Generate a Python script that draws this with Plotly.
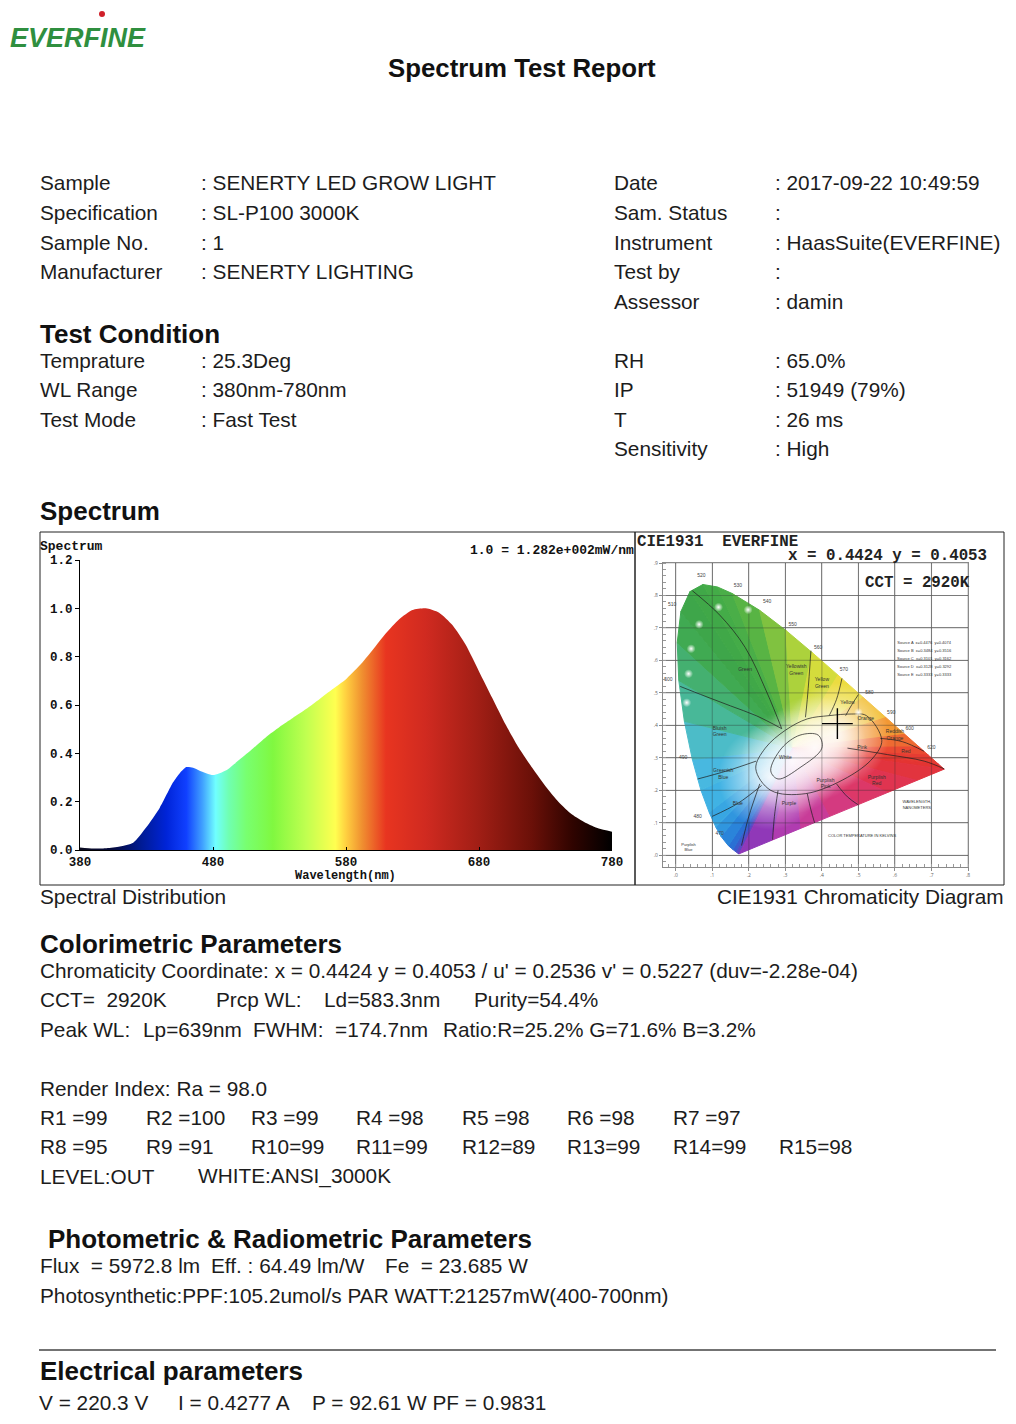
import plotly.graph_objects as go

# the page puts the figure 8px in from the top-left corner, so the figure is
# 1000x1408 and every position below is given in page pixels
W, H = 1000, 1408
OFF = 8
SANS = "Liberation Sans, Arial, sans-serif"
MONO = "Liberation Mono, Courier New, monospace"
INK = "#1c1c1c"
BODY = 20.8
HEAD = 26


def px(x):
    return (x - OFF) / W


def py(y):
    return 1 - (y - OFF) / H


# ---------------- data ----------------
info_left_labels = ["Sample", "Specification", "Sample No.", "Manufacturer"]
info_left_values = ["SENERTY LED GROW LIGHT", "SL-P100 3000K", "1", "SENERTY LIGHTING"]
info_right_labels = ["Date", "Sam. Status", "Instrument", "Test by", "Assessor"]
info_right_values = ["2017-09-22 10:49:59", "", "HaasSuite(EVERFINE)", "", "damin"]

cond_left_labels = ["Temprature", "WL Range", "Test Mode"]
cond_left_values = ["25.3Deg", "380nm-780nm", "Fast Test"]
cond_right_labels = ["RH", "IP", "T", "Sensitivity"]
cond_right_values = ["65.0%", "51949 (79%)", "26 ms", "High"]

# relative spectral power (1.0 = 1.282e+002 mW/nm)
wavelength = [380, 390, 400, 410, 420, 430, 440, 450, 455, 460, 465, 470, 480, 490,
              500, 510, 520, 530, 540, 550, 560, 570, 580, 590, 600, 610, 620, 630,
              640, 650, 660, 670, 680, 690, 700, 710, 720, 730, 740, 750, 760, 770, 780]
intensity = [0.010, 0.006, 0.007, 0.014, 0.030, 0.095, 0.175, 0.280, 0.318, 0.343, 0.340,
             0.328, 0.310, 0.330, 0.374, 0.420, 0.468, 0.509, 0.546, 0.583, 0.624, 0.666,
             0.707, 0.762, 0.828, 0.897, 0.955, 0.993, 1.000, 0.982, 0.931, 0.849, 0.739,
             0.629, 0.519, 0.422, 0.340, 0.264, 0.198, 0.147, 0.113, 0.089, 0.076]

spec_stop_wl = [380, 405, 425, 445, 460, 472, 482, 492, 505, 525, 550, 572, 580, 592,
                610, 640, 680, 720, 750, 780]
spec_colors = ["#0a0a1e", "#050a40", "#001a90", "#0024d8", "#1040ff", "#40a0ff", "#70ffff",
               "#70ffb0", "#78ff70", "#80f840", "#c0ff50", "#ffff50", "#ffd040", "#f09030",
               "#e83520", "#d02a20", "#a01e15", "#6a1008", "#300400", "#000000"]

# CIE 1931 spectral locus and line of purples
locus_wl = [380, 420, 440, 450, 460, 470, 475, 480, 485, 490, 495, 500, 505, 510, 515,
            520, 525, 530, 540, 550, 560, 570, 580, 590, 600, 610, 620, 640, 700]
locus_x = [0.1741, 0.1714, 0.1644, 0.1566, 0.1440, 0.1241, 0.1096, 0.0913, 0.0687, 0.0454,
           0.0235, 0.0082, 0.0039, 0.0139, 0.0389, 0.0743, 0.1142, 0.1547, 0.2296, 0.3016,
           0.3731, 0.4441, 0.5125, 0.5752, 0.6270, 0.6658, 0.6915, 0.7190, 0.7347]
locus_y = [0.0050, 0.0051, 0.0109, 0.0177, 0.0297, 0.0578, 0.0868, 0.1327, 0.2007, 0.2950,
           0.4127, 0.5384, 0.6548, 0.7502, 0.8120, 0.8338, 0.8262, 0.8059, 0.7543, 0.6923,
           0.6245, 0.5547, 0.4866, 0.4242, 0.3725, 0.3340, 0.3083, 0.2809, 0.2653]
purple_x = [0.66, 0.58, 0.50, 0.42, 0.34, 0.26]
purple_y = [0.2306, 0.1935, 0.1563, 0.1192, 0.0821, 0.0450]
edge_colors = ["#7a3aba", "#5a48c4", "#3a5ccc", "#2a70d4", "#2a84da", "#3096de", "#38a6e2",
               "#40b2e4", "#48b8e0", "#4cbcc8", "#48b898", "#44b070", "#40aa52", "#3ea64a",
               "#40a848", "#44ac48", "#4aae48", "#58b444", "#80c240", "#acd23c", "#d4dc3c",
               "#ecdc40", "#f2c03a", "#f29834", "#ee6a32", "#ea4a32", "#e63c32", "#e43432",
               "#e2343e", "#e03450", "#dc3868", "#d43a80", "#c83c98", "#b03cb0", "#9038b8"]
white_x, white_y = 0.32, 0.33

cie_x, cie_y, cct = 0.4424, 0.4053, 2920
cie_xticks = [0, 0.1, 0.2, 0.3, 0.4, 0.5, 0.6, 0.7, 0.8]
cie_yticks = [0, 0.1, 0.2, 0.3, 0.4, 0.5, 0.6, 0.7, 0.8, 0.9]

glow_x = [0.26, 0.32, 0.38, 0.44]
glow_y = [0.24, 0.29, 0.33, 0.37]
dot_x = [0.117, 0.198, 0.064, 0.042, 0.035, 0.030, 0.50]
dot_y = [0.764, 0.756, 0.711, 0.636, 0.559, 0.470, 0.44]

region_lines = [
    ([0.045, 0.12, 0.19, 0.25, 0.29], [0.815, 0.74, 0.64, 0.50, 0.39]),
    ([0.012, 0.08, 0.15, 0.22, 0.29], [0.52, 0.49, 0.46, 0.43, 0.39]),
    ([0.37, 0.365, 0.36, 0.355], [0.63, 0.55, 0.48, 0.425]),
    ([0.455, 0.44, 0.42], [0.545, 0.48, 0.43]),
    ([0.50, 0.48, 0.465], [0.495, 0.46, 0.43]),
    ([0.56, 0.62, 0.68], [0.36, 0.35, 0.32]),
    ([0.47, 0.58, 0.68, 0.735], [0.33, 0.31, 0.29, 0.266]),
    ([0.44, 0.47, 0.50], [0.22, 0.18, 0.155]),
    ([0.36, 0.37, 0.38], [0.19, 0.14, 0.10]),
    ([0.28, 0.27, 0.265], [0.20, 0.12, 0.048]),
    ([0.23, 0.20, 0.18], [0.22, 0.12, 0.03]),
    ([0.06, 0.14, 0.22], [0.235, 0.26, 0.29]),
    ([0.10, 0.17, 0.235], [0.12, 0.16, 0.215]),
    ([0.219, 0.245, 0.30, 0.36, 0.42, 0.48, 0.522, 0.564, 0.54, 0.47, 0.356, 0.26, 0.219],
     [0.267, 0.33, 0.385, 0.42, 0.43, 0.435, 0.43, 0.354, 0.30, 0.24, 0.19, 0.20, 0.267]),
    ([0.26, 0.29, 0.34, 0.39, 0.40, 0.34, 0.28, 0.26],
     [0.26, 0.33, 0.37, 0.37, 0.33, 0.27, 0.235, 0.26]),
]
region_names = ["Green", "Yellowish<br>Green", "Yellow<br>Green", "Yellow", "Orange",
                "Reddish<br>Orange", "Red", "Pink", "Purplish<br>Pink", "Purple",
                "Purplish<br>Red", "Blue", "Greenish<br>Blue", "Bluish<br>Green", "White"]
region_x = [0.19, 0.33, 0.40, 0.47, 0.52, 0.60, 0.63, 0.51, 0.41, 0.31, 0.55, 0.17, 0.13,
            0.12, 0.30]
region_y = [0.57, 0.57, 0.53, 0.47, 0.42, 0.37, 0.32, 0.33, 0.22, 0.16, 0.23, 0.16, 0.25,
            0.38, 0.30]
wl_labels = ["520", "510", "530", "540", "550", "560", "570", "580", "590", "600", "620",
             "500", "490", "480", "470"]
wl_lab_x = [0.07, -0.01, 0.17, 0.25, 0.32, 0.39, 0.46, 0.53, 0.59, 0.64, 0.70, -0.02,
            0.02, 0.06, 0.12]
wl_lab_y = [0.86, 0.77, 0.83, 0.78, 0.71, 0.64, 0.57, 0.50, 0.44, 0.39, 0.33, 0.54, 0.30,
            0.12, 0.065]
source_lines = ["Source A  x=0.4476  y=0.4074", "Source B  x=0.3484  y=0.3516",
                "Source C  x=0.3101  y=0.3162", "Source D  x=0.3128  y=0.3292",
                "Source E  x=0.3333  y=0.3333"]

colorimetric_line = ("Chromaticity Coordinate: x = 0.4424 y = 0.4053 / u' = 0.2536 "
                     "v' = 0.5227 (duv=-2.28e-04)")
cct_row = ["CCT=  2920K", "Prcp WL:", "Ld=583.3nm", "Purity=54.4%"]
cct_row_x = [40, 216, 324, 474]
peak_row = ["Peak WL:", "Lp=639nm", "FWHM:", "=174.7nm", "Ratio:R=25.2% G=71.6% B=3.2%"]
peak_row_x = [40, 143, 253, 335, 443]
render_ra = 98.0
render_r = [99, 100, 99, 98, 98, 98, 97, 95, 91, 99, 99, 89, 99, 99, 98]
r_col_x = [40, 146, 251, 356, 462, 567, 673, 779]
photo_row = ["Flux  = 5972.8 lm", "Eff. : 64.49 lm/W", "Fe  = 23.685 W"]
photo_row_x = [40, 211, 385]
ppf_line = "Photosynthetic:PPF:105.2umol/s PAR WATT:21257mW(400-700nm)"
elec_row = ["V = 220.3 V", "I = 0.4277 A", "P = 92.61 W PF = 0.9831"]
elec_row_x = [40, 179, 313]

# ---------------- figure ----------------
fig = go.Figure()

# spectrum with a wavelength colour fill
spec_scale = [[(w - 380) / 400, c] for w, c in zip(spec_stop_wl, spec_colors)]
fig.add_trace(go.Scatter(
    x=wavelength, y=intensity, mode="lines",
    line=dict(width=0, shape="spline", smoothing=0.6),
    fill="tozeroy",
    fillgradient=dict(type="horizontal", start=380, stop=780, colorscale=spec_scale),
    hoverinfo="skip", xaxis="x", yaxis="y"))

# chromaticity diagram: fan of coloured wedges from the white point
bx = locus_x + purple_x
by = locus_y + purple_y
n = len(bx)
for i in range(n):
    j = (i + 1) % n
    fig.add_trace(go.Scatter(
        x=[white_x, bx[i], bx[j], white_x], y=[white_y, by[i], by[j], white_y],
        mode="lines", fill="toself", fillcolor=edge_colors[i],
        line=dict(color=edge_colors[i], width=1),
        hoverinfo="skip", xaxis="x2", yaxis="y2"))

# whitish centre
fig.add_trace(go.Scatter(
    x=glow_x, y=glow_y, mode="markers",
    marker=dict(size=105, color="rgba(255,255,255,0)", line=dict(width=0),
                gradient=dict(type="radial", color="rgba(255,255,255,0.9)")),
    hoverinfo="skip", xaxis="x2", yaxis="y2"))

# grid seen through the colours
gx, gy = [], []
for t in cie_xticks:
    gx += [t, t, None]
    gy += [-0.036, 0.9, None]
for t in cie_yticks:
    gx += [-0.035, 0.8, None]
    gy += [t, t, None]
fig.add_trace(go.Scatter(x=gx, y=gy, mode="lines",
                         line=dict(color="rgba(40,40,40,0.28)", width=1.2),
                         hoverinfo="skip", xaxis="x2", yaxis="y2"))

for lx, ly in region_lines:
    fig.add_trace(go.Scatter(x=lx, y=ly, mode="lines",
                             line=dict(color="rgba(30,30,30,0.8)", width=0.9, shape="spline"),
                             hoverinfo="skip", xaxis="x2", yaxis="y2"))

fig.add_trace(go.Scatter(x=region_x, y=region_y, mode="text", text=region_names,
                         textfont=dict(family=SANS, size=5, color="#333"),
                         hoverinfo="skip", xaxis="x2", yaxis="y2"))
fig.add_trace(go.Scatter(x=wl_lab_x, y=wl_lab_y, mode="text", text=wl_labels,
                         textfont=dict(family=SANS, size=5, color="#444"),
                         hoverinfo="skip", xaxis="x2", yaxis="y2"))
fig.add_trace(go.Scatter(x=[0.68] * len(source_lines),
                         y=[0.655, 0.63, 0.605, 0.58, 0.555],
                         mode="text", text=source_lines,
                         textfont=dict(family=SANS, size=4, color="#333"),
                         hoverinfo="skip", xaxis="x2", yaxis="y2"))
fig.add_trace(go.Scatter(x=[0.51, 0.66, 0.035], y=[0.058, 0.155, 0.025], mode="text",
                         text=["COLOR TEMPERATURE IN KELVINS", "WAVELENGTH,<br>NANOMETERS",
                               "Purplish<br>Blue"],
                         textfont=dict(family=SANS, size=4, color="#333"),
                         hoverinfo="skip", xaxis="x2", yaxis="y2"))

fig.add_trace(go.Scatter(
    x=dot_x, y=dot_y, mode="markers",
    marker=dict(size=9, color="rgba(255,255,255,0)", line=dict(width=0),
                gradient=dict(type="radial", color="rgba(255,255,255,1)")),
    hoverinfo="skip", xaxis="x2", yaxis="y2"))

fig.add_trace(go.Scatter(
    x=[cie_x], y=[cie_y], mode="markers",
    marker=dict(symbol="cross-thin", size=22, line=dict(color="black", width=1.4)),
    hoverinfo="skip", xaxis="x2", yaxis="y2"))

# ---------------- text ----------------
ann = []


def txt(x, y, s, size=BODY, bold=False, anchor="left", family=SANS, color=INK,
        italic=False, pad=1):
    ann.append(dict(x=px(x), y=py(y), xref="paper", yref="paper", text=s, showarrow=False,
                    xanchor=anchor, yanchor="middle", borderpad=pad,
                    font=dict(family=family, size=size, color=color,
                              weight="bold" if bold else "normal",
                              style="italic" if italic else "normal")))


txt(8, 38, "EVERFINE", size=27, bold=True, italic=True, color="#2f8f3f")
txt(522, 68, "Spectrum Test Report", size=25.8, bold=True, anchor="center", color="#111")

for k, (lab, val) in enumerate(zip(info_left_labels, info_left_values)):
    yy = 183 + k * 29.5
    txt(38, yy, lab)
    txt(199, yy, ": " + val)
for k, (lab, val) in enumerate(zip(info_right_labels, info_right_values)):
    yy = 183 + k * 29.5
    txt(612, yy, lab)
    txt(773, yy, ": " + val if val else ":")

txt(38, 334, "Test Condition", size=HEAD, bold=True, color="#111")
for k, (lab, val) in enumerate(zip(cond_left_labels, cond_left_values)):
    yy = 360 + k * 29.5
    txt(38, yy, lab)
    txt(199, yy, ": " + val)
for k, (lab, val) in enumerate(zip(cond_right_labels, cond_right_values)):
    yy = 360 + k * 29.5
    txt(612, yy, lab)
    txt(773, yy, ": " + val)

txt(38, 511, "Spectrum", size=HEAD, bold=True, color="#111")

# spectrum panel captions (monospace)
txt(38, 546, "Spectrum", size=13, bold=True, family=MONO, color="#111")
txt(636, 550, "1.0 = 1.282e+002mW/nm", size=13, bold=True, family=MONO, color="#111",
    anchor="right")
txt(345, 876, "Wavelength(nm)", size=12, bold=True, family=MONO, color="#111",
    anchor="center", pad=0)

# chromaticity panel captions
txt(635, 542, "CIE1931  EVERFINE", size=15.8, bold=True, family=MONO, color="#222")
txt(989, 556, "x = %.4f y = %.4f" % (cie_x, cie_y), size=15.8, bold=True, family=MONO,
    color="#222", anchor="right")
txt(972, 583, "CCT = %dK" % cct, size=15.8, bold=True, family=MONO, color="#222",
    anchor="right")

txt(38, 896, "Spectral Distribution")
txt(1006, 896, "CIE1931 Chromaticity Diagram", anchor="right")

txt(38, 944, "Colorimetric Parameters", size=HEAD, bold=True, color="#111")
txt(38, 970, colorimetric_line)
for s, xx in zip(cct_row, cct_row_x):
    txt(xx - 2, 999, s)
for s, xx in zip(peak_row, peak_row_x):
    txt(xx - 2, 1029, s)
txt(38, 1088, "Render Index: Ra = %.1f" % render_ra)
for k, r in enumerate(render_r):
    label = ("R%d =%d" if k < 9 else "R%d=%d") % (k + 1, r)
    row, col = (0, k) if k < 7 else (1, k - 7)
    txt(r_col_x[col] - 2, 1117 + row * 29.5, label)
txt(38, 1176, "LEVEL:OUT")
txt(196, 1176, "WHITE:ANSI_3000K")

txt(46, 1239, "Photometric &amp; Radiometric Parameters", size=HEAD, bold=True, color="#111")
for s, xx in zip(photo_row, photo_row_x):
    txt(xx - 2, 1265, s)
txt(38, 1295, ppf_line)
txt(38, 1371, "Electrical parameters", size=HEAD, bold=True, color="#111")
for s, xx in zip(elec_row, elec_row_x):
    txt(xx - 2, 1402, s, pad=0)

# ---------------- frames ----------------
shapes = [
    dict(type="rect", xref="paper", yref="paper", x0=px(40), x1=px(635), y0=py(885),
         y1=py(532), line=dict(color="#222", width=1)),
    dict(type="rect", xref="paper", yref="paper", x0=px(635), x1=px(1004), y0=py(885),
         y1=py(532), line=dict(color="#222", width=1)),
    dict(type="line", xref="paper", yref="paper", x0=px(39), x1=px(996), y0=py(1350),
         y1=py(1350), line=dict(color="#444", width=1.5)),
    dict(type="circle", xref="paper", yref="paper", x0=px(99), x1=px(105), y0=py(17),
         y1=py(11), fillcolor="#d0202a", line=dict(width=0)),
]

mono_tick = dict(family=MONO, size=12.5, color="#111", weight="bold")
cie_axis = dict(showgrid=True, gridcolor="#9a9a9a", gridwidth=1.4, showline=True,
                mirror=True, linecolor="#8a8a8a", linewidth=1.2, ticks="outside",
                ticklen=3, tickcolor="#8a8a8a", tickfont=dict(size=5, color="#666"),
                zeroline=False, automargin=False,
                minor=dict(dtick=0.02, ticks="inside", ticklen=3, tickcolor="#999"))
fig.update_layout(
    template="none",
    width=W, height=H, margin=dict(l=0, r=0, t=0, b=0, pad=0), autosize=False,
    paper_bgcolor="white", plot_bgcolor="white", showlegend=False,
    annotations=ann, shapes=shapes,
    xaxis=dict(domain=[px(80), px(612)], range=[380, 780], anchor="y",
               tickvals=[380, 480, 580, 680, 780], showline=True, linecolor="black",
               linewidth=1, ticks="inside", ticklen=3, tickcolor="black",
               tickfont=mono_tick, showgrid=False, zeroline=False, automargin=False),
    yaxis=dict(domain=[py(850), py(560)], range=[0, 1.2], anchor="x",
               tickvals=[0, 0.2, 0.4, 0.6, 0.8, 1.0, 1.2], tickformat=".1f",
               showline=True, linecolor="black", linewidth=1, ticks="outside",
               ticklen=4, tickcolor="black", tickfont=mono_tick, showgrid=False,
               zeroline=False, automargin=False),
    xaxis2=dict(domain=[px(663), px(968)], range=[-0.035, 0.8], anchor="y2",
                tickvals=cie_xticks,
                ticktext=[("%.1f" % t).lstrip("0") or "0" for t in cie_xticks], **cie_axis),
    yaxis2=dict(domain=[py(867), py(563)], range=[-0.036, 0.9], anchor="x2",
                tickvals=cie_yticks,
                ticktext=[("%.1f" % t).lstrip("0") or "0" for t in cie_yticks], **cie_axis),
)

fig.write_html("out.html")
